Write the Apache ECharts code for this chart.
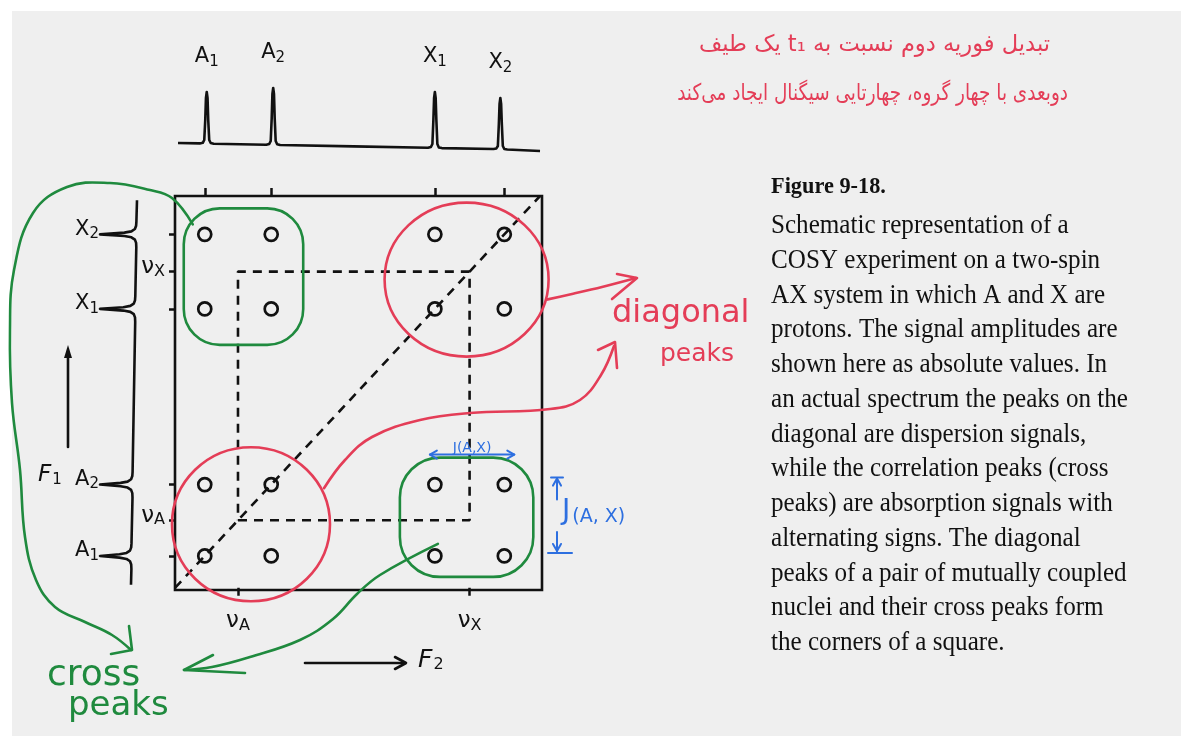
<!DOCTYPE html>
<html>
<head>
<meta charset="utf-8">
<title>COSY schematic – Figure 9-18</title>
<script src="https://cdn.jsdelivr.net/npm/echarts@6/dist/echarts.min.js"></script>
<style>
  html, body { margin: 0; padding: 0; background: #ffffff; }
  #chart { width: 1192px; height: 747px; }
</style>
</head>
<body>
<div id="chart"></div>
<script>
// ---- AX spin system: line positions (same frequency scale on F1 and F2) ----
const lineNames  = ['A1', 'A2', 'X1', 'X2'];
const lineFreq   = [30, 97, 262, 332];
const shiftNames = ['A', 'X'];
const shiftFreq  = [63.5, 297];

// extents of the 2D map
const f2Range = [0, 370];
const f1Range = [-2, 368];

// 1D spectrum along F2, drawn above the map
const f2TraceFreq = [3, 25, 28, 29.5, 30.5, 31.2, 32, 32.8, 33.5, 34.5, 36, 39,
  92, 95, 96.5, 97.5, 98.2, 99, 99.8, 100.5, 101.5, 103, 106, 180,
  255, 258, 259.5, 260.5, 261.2, 262, 262.8, 263.5, 264.5, 266, 269,
  321, 324, 325.5, 326.5, 327.2, 328, 328.8, 329.5, 330.5, 332, 335, 368];
const f2TraceAmp = [7, 6.6, 7.2, 10, 30, 52, 58, 52, 30, 10, 7, 6.3,
  5.3, 6, 9, 32, 56, 62, 56, 32, 9, 5.8, 5, 3.6,
  2.2, 3, 6, 30, 52, 58, 52, 30, 6, 2.6, 1.9,
  1, 1.6, 4, 26, 46, 52, 46, 26, 4, 1, 0.5, -1];

// 1D spectrum along F1, drawn on the left with its peaks pointing left
const f1TraceFreq = [364,
  344, 340, 337, 334.8, 333.6, 332, 330.4, 329.2, 327, 324, 320,
  274, 270, 267, 264.8, 263.6, 262, 260.4, 259.2, 257, 254, 250,
  109, 105, 102, 99.8, 98.6, 97, 95.4, 94.2, 92, 89, 85,
  42, 38, 35, 32.8, 31.6, 30, 28.4, 27.2, 25, 22, 18,
  3];
const f1TraceAmp = [1,
  1.6, 1.9, 3.1, 6.6, 13.6, 38, 13.6, 6.6, 3.1, 1.9, 1.7,
  2.7, 3, 4.2, 7.7, 14.7, 38, 14.7, 7.7, 4.2, 3, 2.8,
  5.4, 5.7, 6.9, 10.4, 17.4, 38, 17.4, 10.4, 6.9, 5.7, 5.5,
  6.5, 6.8, 8, 11.5, 18.5, 38, 18.5, 11.5, 8, 6.8, 6.6,
  7];

// caption and notes
const captionTitle = 'Figure 9-18.';
const captionLines = [
  'Schematic representation of a',
  'COSY experiment on a two-spin',
  'AX system in which A and X are',
  'protons. The signal amplitudes are',
  'shown here as absolute values. In',
  'an actual spectrum the peaks on the',
  'diagonal are dispersion signals,',
  'while the correlation peaks (cross',
  'peaks) are absorption signals with',
  'alternating signs. The diagonal',
  'peaks of a pair of mutually coupled',
  'nuclei and their cross peaks form',
  'the corners of a square.'
];
const noteLines = [
  'تبدیل فوریه دوم نسبت به t₁ یک طیف',
  'دوبعدی با چهار گروه، چهارتایی سیگنال ایجاد می‌کند'
];

// ---- derived marks ----
const diagonalPeaks = [], crossPeaks = [];
lineFreq.forEach((f2, i) => lineFreq.forEach((f1, j) => {
  (lineNames[i][0] === lineNames[j][0] ? diagonalPeaks : crossPeaks).push([f2, f1]);
}));
const f2Trace = f2TraceFreq.map((f, i) => [f, f2TraceAmp[i]]);
const f1Trace = f1TraceFreq.map((f, i) => [f1TraceAmp[i], f]);
const f2Tips = [];
f2TraceAmp.forEach((a, i) => {
  if (i > 0 && i < f2TraceAmp.length - 1 && a > f2TraceAmp[i - 1] && a > f2TraceAmp[i + 1]) {
    f2Tips.push({ name: lineNames[f2Tips.length], value: [f2TraceFreq[i], a] });
  }
});
const squarePath = [[shiftFreq[0], shiftFreq[0]], [shiftFreq[1], shiftFreq[0]],
  [shiftFreq[1], shiftFreq[1]], [shiftFreq[0], shiftFreq[1]], [shiftFreq[0], shiftFreq[0]]];
const diagLo = Math.max(f2Range[0], f1Range[0]), diagHi = Math.min(f2Range[1], f1Range[1]);

// ---- styles ----
const INK = '#111111', RED = '#e43d57', GREEN = '#1f8a3e', BLUE = '#2d6fe0';
const LETTER = '"DejaVu Sans", sans-serif';
const HAND = '"DejaVu Sans", sans-serif';
const SERIF = '"Liberation Serif", "DejaVu Serif", serif';

const letterRich = {
  m: { fontFamily: LETTER, fontSize: 21, color: INK, padding: [0, 0, 10, 0] },
  s: { fontFamily: LETTER, fontSize: 15, color: INK }
};
const nuRich = {
  n: { fontFamily: LETTER, fontSize: 23, color: INK, padding: [0, 0, 9, 0] },
  s: { fontFamily: LETTER, fontSize: 16, color: INK }
};
const lineLabel = name => `{m|${name[0]}}{s|${name.slice(1)}}`;
const nuLabel = v => `{n|ν}{s|${shiftNames[shiftFreq.indexOf(v)]}}`;
const tickStyle = { color: INK, width: 2.5 };
const peakStyle = { color: 'rgba(0,0,0,0)', borderColor: INK, borderWidth: 2.7, opacity: 1 };

const chart = echarts.init(document.getElementById('chart'));

chart.setOption({
  backgroundColor: '#ffffff',
  animation: false,
  grid: [
    { left: 175, top: 196, width: 367, height: 394, show: true, borderColor: INK, borderWidth: 2.6, backgroundColor: 'transparent' },
    { left: 100, top: 196, width: 38, height: 394 },
    { left: 175, top: 85, width: 367, height: 70 }
  ],
  xAxis: [
    { gridIndex: 0, type: 'value', min: f2Range[0], max: f2Range[1], position: 'bottom',
      axisLine: { show: false }, splitLine: { show: false },
      axisTick: { show: true, customValues: shiftFreq, length: 8, lineStyle: tickStyle },
      axisLabel: { show: true, customValues: shiftFreq, margin: 20, color: INK, formatter: nuLabel, rich: nuRich } },
    { gridIndex: 0, type: 'value', min: f2Range[0], max: f2Range[1], position: 'top',
      axisLine: { show: false }, splitLine: { show: false },
      axisTick: { show: true, customValues: lineFreq, length: 8, lineStyle: tickStyle },
      axisLabel: { show: false } },
    { gridIndex: 1, type: 'value', min: 0, max: 38, inverse: true, show: false },
    { gridIndex: 2, type: 'value', min: f2Range[0], max: f2Range[1], show: false }
  ],
  yAxis: [
    { gridIndex: 0, type: 'value', min: f1Range[0], max: f1Range[1],
      axisLine: { show: false }, splitLine: { show: false },
      axisTick: { show: true, customValues: lineFreq.concat(shiftFreq), length: 6, lineStyle: tickStyle },
      axisLabel: { show: true, customValues: shiftFreq, margin: 10, color: INK, formatter: nuLabel, rich: nuRich } },
    { gridIndex: 1, type: 'value', min: f1Range[0], max: f1Range[1],
      axisLine: { show: false }, splitLine: { show: false }, axisTick: { show: false },
      axisLabel: { show: true, customValues: lineFreq, margin: 1, color: INK,
        formatter: v => lineLabel(lineNames[lineFreq.indexOf(v)]), rich: letterRich } },
    { gridIndex: 2, type: 'value', min: -5, max: 65, show: false }
  ],
  series: [
    { name: 'square', type: 'line', xAxisIndex: 0, yAxisIndex: 0, data: squarePath, symbol: 'none',
      lineStyle: { color: INK, width: 2.6, type: [9, 7] }, silent: true },
    { name: 'diagonal', type: 'line', xAxisIndex: 0, yAxisIndex: 0,
      data: [[diagLo, diagLo], [diagHi, diagHi]], symbol: 'none',
      lineStyle: { color: INK, width: 2.6, type: [9, 7] }, silent: true },
    { name: 'diagonal peaks', type: 'scatter', xAxisIndex: 0, yAxisIndex: 0, data: diagonalPeaks,
      symbol: 'circle', symbolSize: 13, itemStyle: peakStyle },
    { name: 'cross peaks', type: 'scatter', xAxisIndex: 0, yAxisIndex: 0, data: crossPeaks,
      symbol: 'circle', symbolSize: 13, itemStyle: peakStyle },
    { name: 'F2 spectrum', type: 'line', xAxisIndex: 3, yAxisIndex: 2, data: f2Trace, symbol: 'none',
      lineStyle: { color: INK, width: 2.6, join: 'round' } },
    { name: 'F2 lines', type: 'scatter', xAxisIndex: 3, yAxisIndex: 2, data: f2Tips,
      symbolSize: 1, itemStyle: { color: 'rgba(0,0,0,0)' },
      label: { show: true, position: 'top', distance: 14, color: INK, opacity: 1,
        formatter: p => lineLabel(p.name), rich: letterRich } },
    { name: 'F1 spectrum', type: 'line', xAxisIndex: 2, yAxisIndex: 1, data: f1Trace, symbol: 'none',
      lineStyle: { color: INK, width: 2.6, join: 'round' } }
  ]
});

// ---- annotations anchored on the map ----
const P = (f2, f1) => chart.convertToPixel({ gridIndex: 0 }, [f2, f1]);
function group(l2, l1) {
  const pts = [];
  lineFreq.forEach((a, i) => lineFreq.forEach((b, j) => {
    if (lineNames[i][0] === l2 && lineNames[j][0] === l1) pts.push(P(a, b));
  }));
  const xs = pts.map(p => p[0]), ys = pts.map(p => p[1]);
  const g = { x0: Math.min(...xs), x1: Math.max(...xs), y0: Math.min(...ys), y1: Math.max(...ys) };
  g.cx = (g.x0 + g.x1) / 2; g.cy = (g.y0 + g.y1) / 2;
  return g;
}
const gAX = group('A', 'X'), gXA = group('X', 'A'), gAA = group('A', 'A'), gXX = group('X', 'X');

function pen(color, w) {
  return { stroke: color, lineWidth: w || 2.6, fill: null, lineCap: 'round', lineJoin: 'round' };
}
function poly(points, color, smooth, w) {
  return { type: 'polyline', z: 50, silent: true, shape: { points, smooth: smooth || 0 }, style: pen(color, w) };
}
function text(x, y, str, font, color, align, extra, more) {
  return Object.assign({ type: 'text', z: 60, silent: true, x, y,
    style: Object.assign({ text: str, font, fill: color, align: align || 'left', textAlign: align || 'left',
      verticalAlign: 'middle', textVerticalAlign: 'middle' }, extra || {}) }, more || {});
}

const right = P(f2Range[1], 0)[0];
const a2y = P(0, lineFreq[1])[1], a1y = P(0, lineFreq[0])[1];
const jy = gXA.y0 - 30, jx0 = gXA.x0 - 5, jx1 = gXA.x1 + 10;
const vx = right + 15, vy0 = a2y - 7, vy1 = a1y - 4;

const elements = [
  // page
  { type: 'rect', z: -10, silent: true, shape: { x: 12, y: 11, width: 1169, height: 725 }, style: { fill: '#efefef' } },

  // groups
  { type: 'rect', z: 40, silent: true, shape: { x: gAX.x0 - 21, y: gAX.y0 - 26, width: gAX.x1 - gAX.x0 + 53, height: gAX.y1 - gAX.y0 + 62, r: 36 }, style: pen(GREEN) },
  { type: 'rect', z: 40, silent: true, shape: { x: gXA.x0 - 35, y: gXA.y0 - 27, width: gXA.x1 - gXA.x0 + 64, height: gXA.y1 - gXA.y0 + 48, r: 40 }, style: pen(GREEN) },
  { type: 'ellipse', z: 40, silent: true, shape: { cx: gAA.cx + 13, cy: gAA.cy + 4, rx: 79, ry: 77 }, style: pen(RED) },
  { type: 'ellipse', z: 40, silent: true, shape: { cx: gXX.cx - 3, cy: gXX.cy + 8, rx: 82, ry: 77 }, style: pen(RED) },

  // green pointers to "cross peaks"
  poly([[gAX.x0 - 12, gAX.y0 - 10], [172, 198], [150, 190], [110, 183], [67, 187], [33, 213], [14, 270], [10, 330],
        [12, 403], [20, 470], [25, 537], [36, 580], [55, 607], [85, 622], [112, 635], [131, 650]], GREEN, 0.4),
  poly([[129, 626], [132, 650], [111, 654]], GREEN),
  poly([[gXA.x0 + 3, gXA.y1 - 12], [380, 575], [357, 594], [333, 619], [300, 640], [250, 657], [212, 667], [184, 670]], GREEN, 0.4),
  poly([[213, 655], [184, 670], [245, 673]], GREEN),
  text(47, 676, 'cross', '36px ' + HAND, GREEN),
  text(68, 706, 'peaks', '34px ' + HAND, GREEN),

  // red pointers to "diagonal peaks"
  poly([[gXX.cx + 77, gXX.cy + 28], [572, 294], [602, 287], [636, 278]], RED, 0.3),
  poly([[617, 274], [637, 278], [612, 299]], RED),
  poly([[gAA.cx + 86, gAA.cy - 32], [345, 460], [372, 437], [420, 420], [470, 413], [550, 409], [580, 400], [601, 375], [614, 346]], RED, 0.4),
  poly([[598, 350], [615, 342], [617, 368]], RED),
  text(612, 314, 'diagonal', '32px ' + HAND, RED),
  text(660, 354, 'peaks', '25px ' + HAND, RED),

  // coupling constant markers
  poly([[jx0, jy], [jx1, jy]], BLUE, 0, 2),
  poly([[jx0 + 7, jy - 4], [jx0, jy], [jx0 + 7, jy + 4]], BLUE, 0, 2),
  poly([[jx1 - 7, jy - 4], [jx1, jy], [jx1 - 7, jy + 4]], BLUE, 0, 2),
  text((jx0 + jx1) / 2, jy - 6, 'J(A,X)', '14px ' + HAND, BLUE, 'center'),
  poly([[vx - 6, vy0], [vx + 6, vy0]], BLUE, 0, 2),
  poly([[vx, vy0 + 1], [vx, vy0 + 22]], BLUE, 0, 2),
  poly([[vx - 4, vy0 + 8], [vx, vy0 + 1], [vx + 4, vy0 + 8]], BLUE, 0, 2),
  poly([[vx, vy1 - 20], [vx, vy1 - 1]], BLUE, 0, 2),
  poly([[vx - 4, vy1 - 8], [vx, vy1 - 1], [vx + 4, vy1 - 8]], BLUE, 0, 2),
  poly([[vx - 9, vy1 + 1], [vx + 15, vy1 + 1]], BLUE, 0, 2),
  text(vx + 5, (vy0 + vy1) / 2 + 2, '{j|J}{s|(A, X)}', '26px ' + HAND, BLUE, 'left', {
    rich: { j: { fontFamily: HAND, fontSize: 28, color: BLUE, padding: [0, 2, 10, 0] },
            s: { fontFamily: HAND, fontSize: 19, color: BLUE } } }),

  // frequency axis arrows
  poly([[305, 663], [405, 663]], INK, 0, 2.6),
  poly([[395, 657], [406, 663], [395, 669]], INK, 0, 2.6),
  text(418, 665, '{f|F}{s|2}', '25px ' + LETTER, INK, 'left', {
    rich: { f: { fontFamily: LETTER, fontStyle: 'italic', fontSize: 25, color: INK, padding: [0, 1, 10, 0] },
            s: { fontFamily: LETTER, fontSize: 16, color: INK } } }),
  poly([[68, 447], [68, 355]], INK, 0, 2.6),
  { type: 'polygon', z: 50, silent: true, shape: { points: [[64, 358], [68, 345], [72, 358]] }, style: { fill: INK } },
  text(38, 480, '{f|F}{s|1}', '23px ' + LETTER, INK, 'left', {
    rich: { f: { fontFamily: LETTER, fontStyle: 'italic', fontSize: 23, color: INK, padding: [0, 1, 9, 0] },
            s: { fontFamily: LETTER, fontSize: 15, color: INK } } }),

  // handwritten note
  text(1050, 45, '\u202B' + noteLines[0] + '\u202C', '23px ' + HAND, RED, 'right', null, { scaleX: 0.98 }),
  text(1068, 94, '\u202B' + noteLines[1] + '\u202C', '23px ' + HAND, RED, 'right', null, { scaleX: 0.8 }),

  // caption
  text(771, 187, captionTitle, 'bold 24px ' + SERIF, INK, 'left', null, { scaleX: 0.93 })
];
captionLines.forEach((line, i) => {
  elements.push(text(771, 226 + i * 34.75, line, '27px ' + SERIF, INK, 'left', null, { scaleX: 0.93 }));
});

chart.setOption({ graphic: { elements } });
</script>
</body>
</html>
